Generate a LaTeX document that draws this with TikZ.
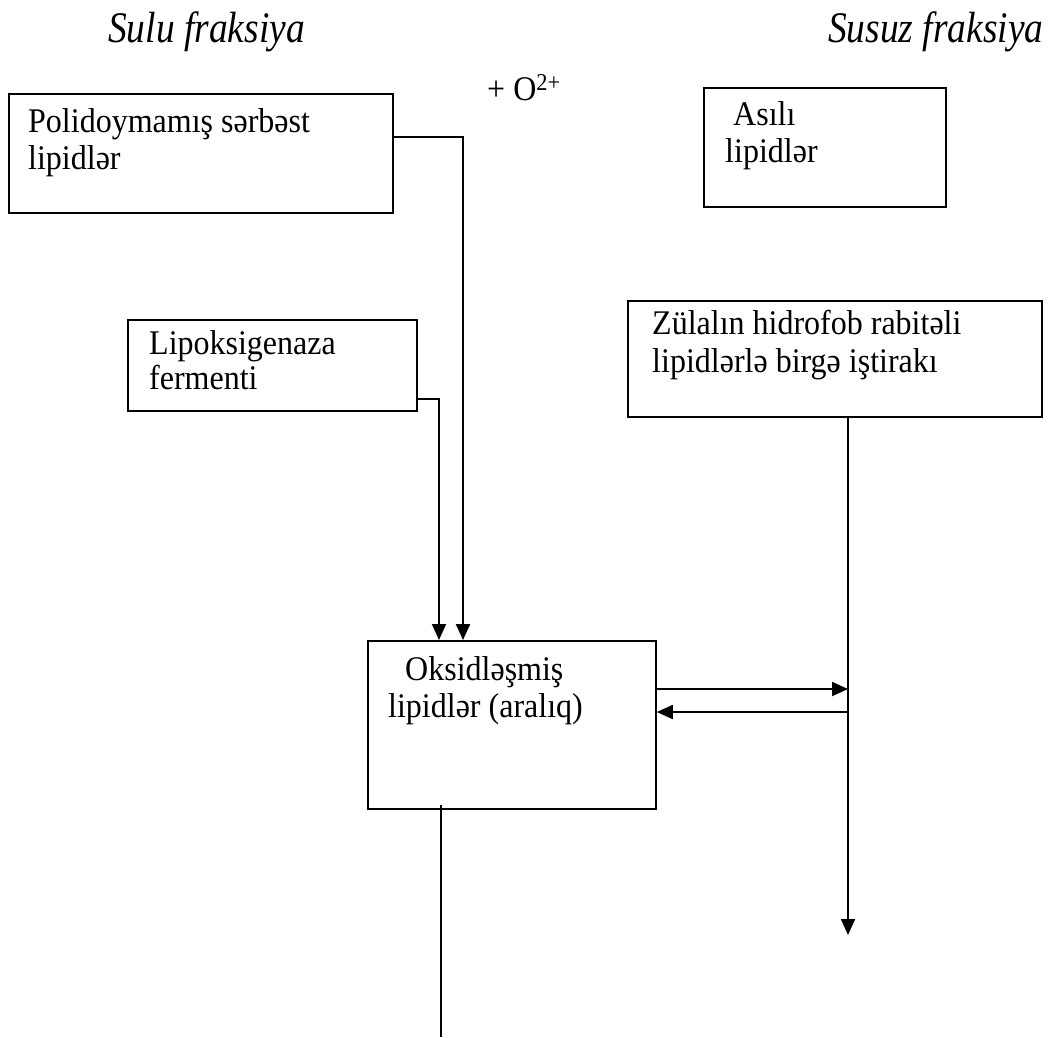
\documentclass[tikz,border=0pt]{standalone}
\usepackage{fontspec}
\usepackage{graphicx}
\setmainfont{Liberation Serif}
\usetikzlibrary{arrows.meta,calc}
% slightly tall type, as in the printed scheme
\newcommand{\tallbody}[1]{\scalebox{1}[1.08]{#1}}
\newcommand{\tallhead}[1]{\scalebox{0.96}[1.12]{#1}}
\begin{document}
\begin{tikzpicture}[x=1pt,y=-1pt,
  box/.style={draw,line width=1.8pt,rectangle,inner sep=0pt,anchor=north west},
  lbl/.style={anchor=base west,inner sep=0pt,font=\fontsize{32}{38}\selectfont},
  head/.style={anchor=base west,inner sep=0pt,font=\fontsize{39}{44}\selectfont\itshape},
  link/.style={line width=1.8pt},
  arr/.style={line width=1.8pt,-{Triangle[length=16pt,width=14pt]}}]
\useasboundingbox (0,0) rectangle (1049,1037);

% column headings
\node[head] (hl) at (108,42) {\tallhead{Sulu fraksiya}};
\node[head] (hr) at (828,42) {\tallhead{Susuz fraksiya}};
\node[lbl] (ox) at (487,100) {\tallbody{+ O\textsuperscript{2+}}};

% boxes
\node[box,minimum width=384pt,minimum height=119pt] (b1) at (8,93) {};
\node[box,minimum width=242pt,minimum height=119pt] (b2) at (703,87) {};
\node[box,minimum width=414pt,minimum height=116pt] (b3) at (627,300) {};
\node[box,minimum width=289pt,minimum height=91pt]  (b4) at (127,319) {};
\node[box,minimum width=288pt,minimum height=168pt] (b5) at (367,640) {};

% box texts
\node[lbl] (t1a) at (28,132) {\tallbody{Polidoymamış sərbəst}};
\node[lbl] (t1b) at (28,169) {\tallbody{lipidlər}};
\node[lbl] (t2a) at (733,125) {\tallbody{Asılı}};
\node[lbl] (t2b) at (725,162) {\tallbody{lipidlər}};
\node[lbl] (t3a) at (652,334) {\tallbody{Zülalın hidrofob rabitəli}};
\node[lbl] (t3b) at (652,372) {\tallbody{lipidlərlə birgə iştirakı}};
\node[lbl] (t4a) at (149,354) {\tallbody{Lipoksigenaza}};
\node[lbl] (t4b) at (149,389) {\tallbody{fermenti}};
\node[lbl] (t5a) at (405,680) {\tallbody{Oksidləşmiş}};
\node[lbl] (t5b) at (388,717) {\tallbody{lipidlər (aralıq)}};

% connector points
\coordinate (s1) at ($(b1.north east)+(0,44)$);
\coordinate (d1) at ($(b5.north west)+(96,0)$);
\coordinate (s4) at ($(b4.north east)+(0,80)$);
\coordinate (d4) at ($(b5.north west)+(72,0)$);
\coordinate (v0) at ($(b3.south west)+(221,0)$);
\coordinate (v1) at (848,935);
\coordinate (r1) at ($(b5.north east)+(0,49)$);
\coordinate (r2) at ($(b5.north east)+(0,72)$);
\coordinate (u0) at ($(b5.south west)+(74,-5)$);
\coordinate (u1) at (441,1037);

% connectors
\draw[arr,line width=2.2pt] (s1) -| (d1);
\draw[arr] (s4) -| (d4);
\draw[arr] (v0) -- (v1);
\draw[arr] (r1) -- (r1 -| v0);
\draw[arr] (r2 -| v0) -- (r2);
\draw[link] (u0) -- (u1);
\end{tikzpicture}
\end{document}
